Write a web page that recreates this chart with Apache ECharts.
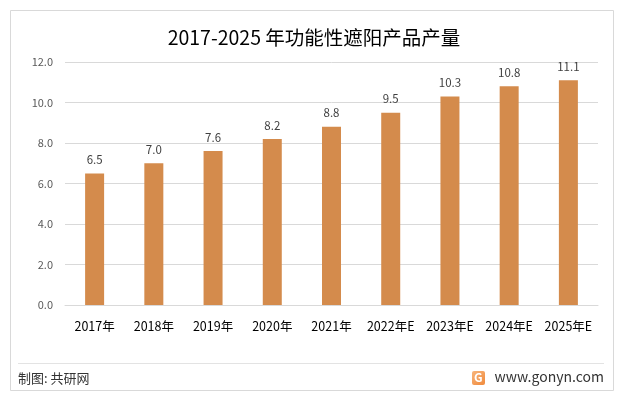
<!DOCTYPE html>
<html>
<head>
<meta charset="utf-8">
<script src="https://cdn.jsdelivr.net/npm/echarts@6/dist/echarts.min.js"></script>
<style>
  html, body { margin: 0; padding: 0; background: #fff; }
  #main { width: 628px; height: 397px; }
</style>
</head>
<body>
<div id="main"></div>
<script>
/* 功能性遮阳产品产量 */
var years = ['2017年', '2018年', '2019年', '2020年', '2021年', '2022年E', '2023年E', '2024年E', '2025年E'];
var output = [6.5, 7.0, 7.6, 8.2, 8.8, 9.5, 10.3, 10.8, 11.1];
var yTicks = [0, 2, 4, 6, 8, 10, 12];

(function(){
	var myChart = echarts.init(document.getElementById('main'));
	var font = '"Microsoft YaHei", "Noto Sans CJK SC", sans-serif';
	var option = {
		backgroundColor: '#fff',
		animation: false,
		title: {
			text: '2017-2025 年功能性遮阳产品产量',
			left: 'center',
			top: 23,
			textStyle: {
				color: '#000',
				fontSize: 19.5,
				fontWeight: 'normal',
				fontFamily: font
			}
		},
		grid: {
			left: 65,
			right: 30,
			top: 62,
			bottom: 92
		},
		xAxis: {
			type: 'category',
			data: years,
			axisLine: { lineStyle: { color: '#d9d9d9' } },
			axisTick: { show: false },
			axisLabel: {
				color: '#000',
				fontSize: 12.5,
				fontFamily: font,
				margin: 15,
				interval: 0
			}
		},
		yAxis: {
			type: 'value',
			min: yTicks[0],
			max: yTicks[yTicks.length - 1],
			interval: 2,
			axisLine: { show: false },
			axisTick: { show: false },
			axisLabel: {
				color: '#595959',
				fontSize: 11,
				fontFamily: font,
				margin: 12,
				formatter: function(v){ return v.toFixed(1); }
			},
			splitLine: { lineStyle: { color: '#d9d9d9' } }
		},
		series: [{
			type: 'bar',
			data: output,
			barWidth: 19,
			itemStyle: { color: '#D48B4C' },
			label: {
				show: true,
				position: 'top',
				distance: 8,
				color: '#404040',
				fontSize: 11.5,
				fontFamily: font,
				formatter: function(p){ return p.value.toFixed(1); }
			}
		}],
		graphic: [
			{
				type: 'rect',
				shape: { x: 10.5, y: 10.5, width: 603, height: 380 },
				style: { fill: 'none', stroke: '#d9d9d9', lineWidth: 1 },
				silent: true
			},
			{
				type: 'line',
				shape: { x1: 18, y1: 363.5, x2: 604, y2: 363.5 },
				style: { stroke: '#e3e3e3', lineWidth: 1 },
				silent: true
			},
			{
				type: 'text',
				left: 18,
				top: 372,
				style: { text: '制图: 共研网', fill: '#333', fontSize: 13, fontFamily: font }
			},
			{
				type: 'rect',
				shape: { x: 472, y: 371, width: 13, height: 14, r: 2 },
				style: {
					fill: new echarts.graphic.LinearGradient(0, 0, 1, 1, [
						{ offset: 0, color: '#f7b47a' },
						{ offset: 1, color: '#f08a3c' }
					])
				}
			},
			{
				type: 'text',
				left: 474,
				top: 371,
				style: { text: 'G', fill: '#fff', fontSize: 12, fontWeight: 'bold', fontFamily: font }
			},
			{
				type: 'text',
				right: 24,
				top: 370,
				style: { text: 'www.gonyn.com', fill: '#333', fontSize: 14, fontFamily: font }
			}
		]
	};
	myChart.setOption(option);
})();
</script>
</body>
</html>
